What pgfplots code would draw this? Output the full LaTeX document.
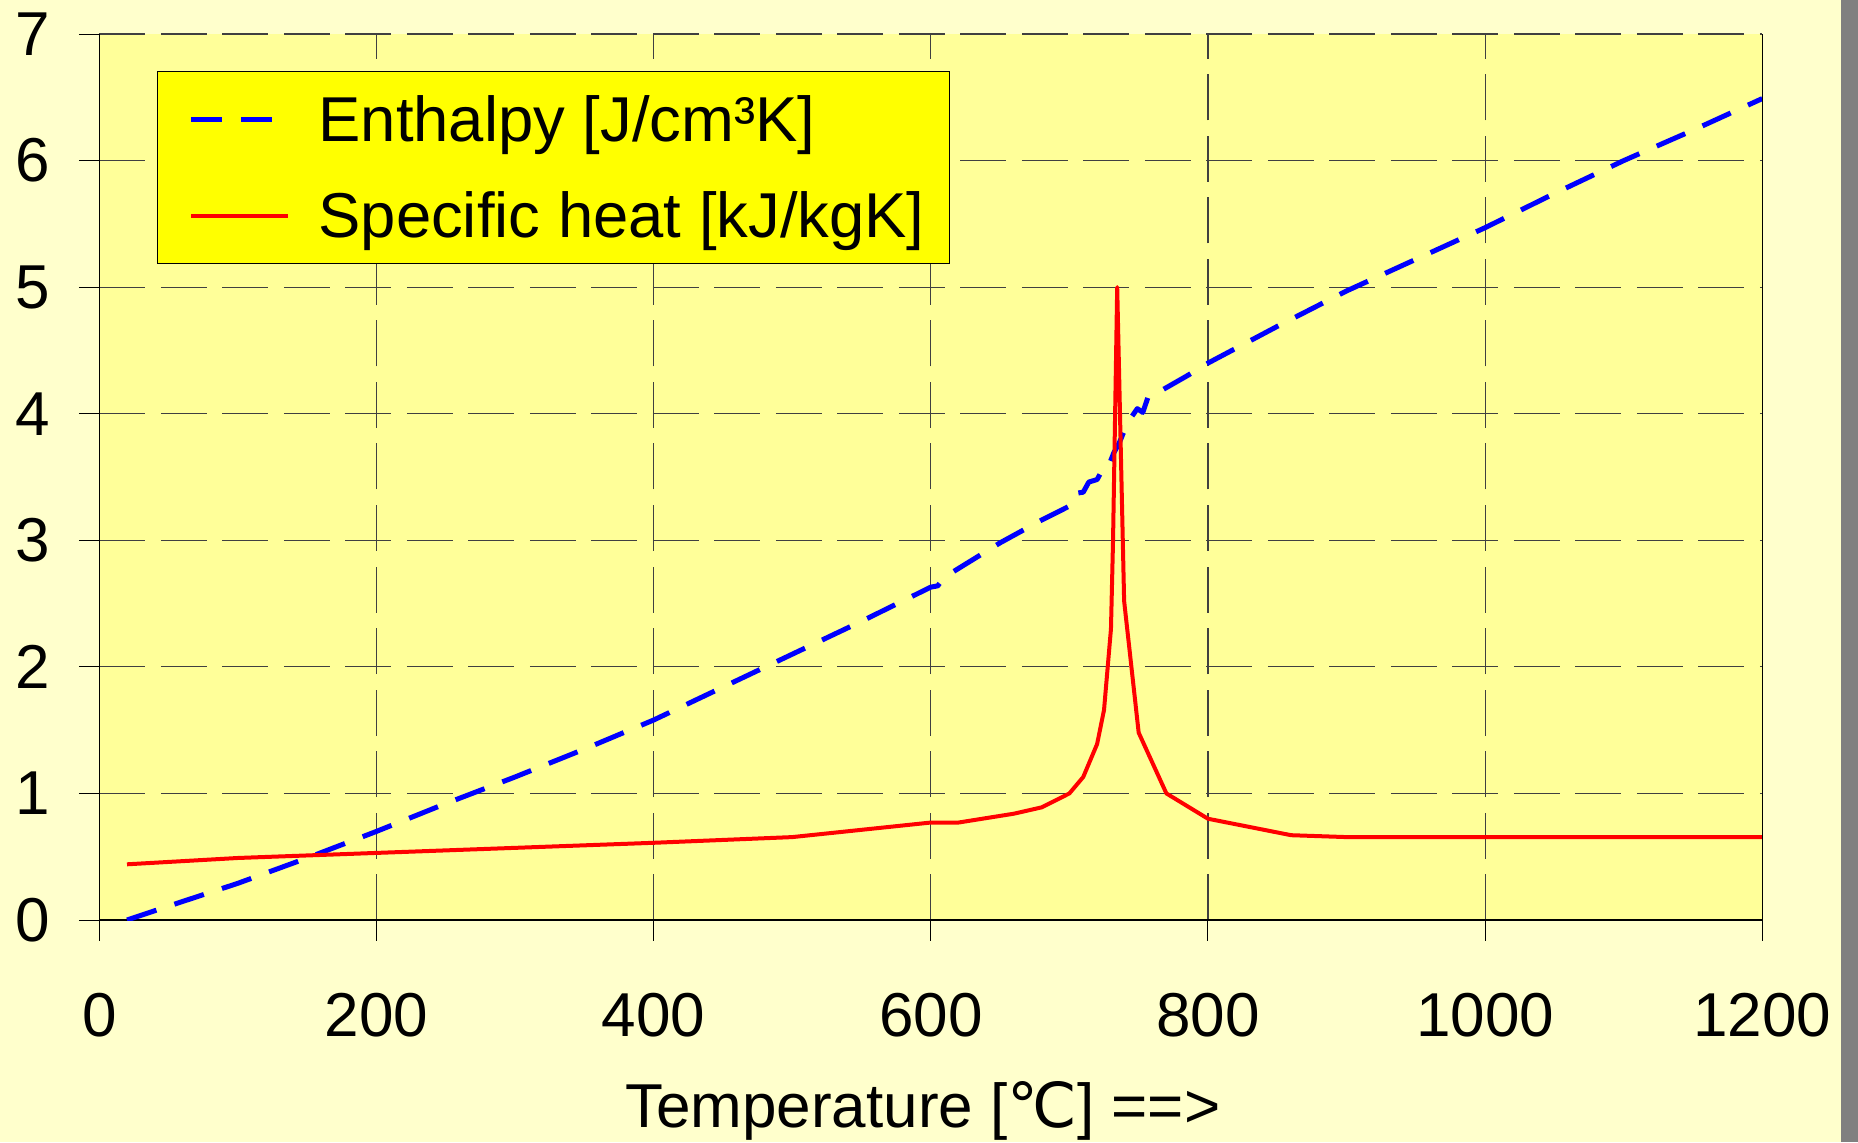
\documentclass[border=0pt]{standalone}
\usepackage{pgfplots}
\pgfplotsset{compat=1.18}
\usepackage{fontspec}
\setmainfont{Liberation Sans}
\newfontfamily\dejavu{DejaVu Sans}
\definecolor{outerbg}{HTML}{FFFFCC}
\definecolor{plotbg}{HTML}{FFFF99}
\definecolor{legbg}{HTML}{FFFF00}
\definecolor{gridc}{HTML}{404040}
\definecolor{barc}{HTML}{808080}
\begin{document}
\begin{tikzpicture}
\path[use as bounding box, fill=outerbg] (0,0) rectangle (929pt,571pt);
\fill[barc] (920.5pt,0) rectangle (929pt,571pt);
\begin{axis}[
  name=ax,
  at={(49.65pt,111pt)}, anchor=south west,
  scale only axis, width=831.5pt, height=443pt,
  xmin=0, xmax=1200, ymin=0, ymax=7,
  xtick={0,200,...,1200}, ytick={0,1,...,7},
  axis x line*=bottom, axis y line*=left,
  axis line style={black, line width=0.65pt},
  tick align=outside, major tick length=10.25pt,
  tick style={black, line width=0.5pt},
  grid=major,
  grid style={gridc, line width=0.55pt, dash pattern=on 23pt off 7.75pt},
  axis background/.style={fill=plotbg},
  /pgf/number format/assume math mode=true,
  /pgf/number format/1000 sep={},
  ticklabel style={font=\fontsize{31}{37}\selectfont, inner sep=0pt},
  xticklabel style={anchor=north, yshift=-26pt},
  yticklabel style={anchor=east, xshift=-14pt},
  xlabel={Temperature [{\dejavu ℃}] ==>},
  xlabel style={at={(axis description cs:0.5,0)}, anchor=base, yshift=-103.5pt, xshift=-4pt, inner sep=0pt, font=\fontsize{31}{37}\selectfont},
  legend cell align=left,
  legend image code/.code={\path (0pt,0pt); \draw[#1] (3pt,0pt) -- (51.5pt,0pt);},
  legend style={at={(0.0347,0.958)}, anchor=north west, draw=black, line width=0.5pt, fill=legbg,
    inner xsep=12.5pt, inner ysep=9pt, font=\fontsize{31.7}{37}\selectfont, row sep=18pt,
    nodes={inner sep=0pt, text height=26pt, text depth=4pt},
    /tikz/every odd column/.append style={column sep=14pt}},
]
\addplot[blue, line width=2.5pt, line join=round, dash pattern=on 15.5pt off 9.5pt] coordinates {
(20,0) (50,0.11) (100,0.29) (150,0.49) (200,0.70) (250,0.92) (300,1.13) (350,1.35)
(400,1.58) (450,1.84) (500,2.10) (550,2.36) (600,2.63) (605,2.64) (610,2.71) (650,2.98)
(680,3.16) (700,3.27) (704,3.37) (710,3.38) (714,3.46) (720,3.48) (723,3.54) (727,3.55)
(732,3.69) (736,3.77) (742,3.93) (749,4.04) (753,4.01) (757,4.14) (761,4.15) (785,4.30)
(800,4.40) (850,4.69) (900,4.97) (950,5.22) (1000,5.47) (1050,5.74) (1100,6.00)
(1150,6.24) (1200,6.49)
};
\addlegendentry{Enthalpy [J/cm³K]}
\addplot[red, line width=2pt, line join=round] coordinates {
(20,0.44) (100,0.49) (200,0.53) (300,0.57) (400,0.61) (500,0.655) (600,0.77) (620,0.77)
(660,0.84) (680,0.89) (700,1.0) (710,1.13) (720,1.39) (725,1.66) (730,2.3) (731.5,3.0)
(734.5,5.0) (739.5,2.52) (750,1.48) (770,1.0) (800,0.8) (860,0.67) (900,0.655) (1200,0.655)
};
\addlegendentry{Specific heat [kJ/kgK]}
\end{axis}
\draw[black, line width=0.65pt] (ax.south east) -- (ax.north east);
\end{tikzpicture}
\end{document}
